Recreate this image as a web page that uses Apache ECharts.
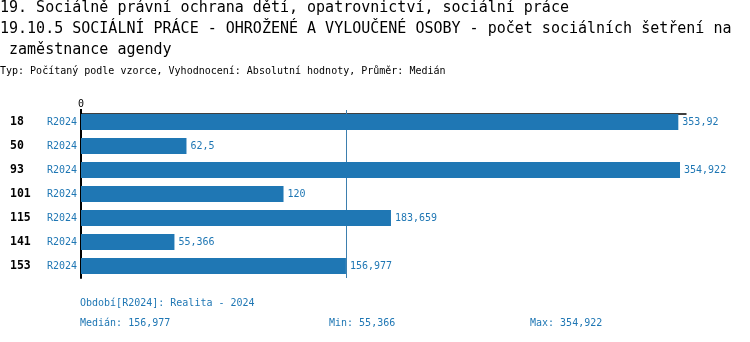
<!DOCTYPE html>
<html>
<head>
<meta charset="utf-8">
<script src="https://cdn.jsdelivr.net/npm/echarts@6/dist/echarts.min.js"></script>
<style>html,body{margin:0;padding:0;background:#fff}#c{width:750px;height:342px}</style>
</head>
<body>
<div id="c"></div>
<script>
const titleLines = [
  '19. Sociálně právní ochrana dětí, opatrovnictví, sociální práce',
  '19.10.5 SOCIÁLNÍ PRÁCE - OHROŽENÉ A VYLOUČENÉ OSOBY - počet sociálních šetření na',
  ' zaměstnance agendy'
];
const subtitle = 'Typ: Počítaný podle vzorce, Vyhodnocení: Absolutní hodnoty, Průměr: Medián';
const categories = ['18', '50', '93', '101', '115', '141', '153'];
const periodLabel = 'R2024';
const periodText = 'Období[R2024]: Realita - 2024';
const values = [353.92, 62.5, 354.922, 120, 183.659, 55.366, 156.977];
const xTickLabels = [0];

const FONT = 'DejaVu Sans Mono';
const BLUE = '#1f77b4';
const fmt = v => String(+v.toFixed(3)).replace('.', ',');
const sorted = values.slice().sort((a, b) => a - b);
const median = sorted[Math.floor(sorted.length / 2)];
const vMin = sorted[0];
const vMax = sorted[sorted.length - 1];

const chart = echarts.init(document.getElementById('c'), null, {renderer: 'canvas'});
chart.setOption({
  animation: false,
  backgroundColor: '#fff',
  grid: {left: 81, top: 110, height: 168, right: 64},
  xAxis: {
    type: 'value', position: 'top', min: 0, max: vMax * 1.01, offset: -4,
    axisLine: {show: true, lineStyle: {color: '#000', width: 1.5}},
    axisTick: {show: true, customValues: xTickLabels, length: 5, lineStyle: {color: '#000', width: 2}},
    axisLabel: {show: true, customValues: xTickLabels, margin: 5, color: '#000', fontFamily: FONT, fontSize: 10},
    splitLine: {show: false}
  },
  yAxis: [
    {
      type: 'category', inverse: true, data: categories,
      axisLine: {show: true, lineStyle: {color: '#000', width: 2}},
      axisTick: {show: false},
      axisLabel: {formatter: () => periodLabel, color: BLUE, fontFamily: FONT, fontSize: 10, margin: 4}
    },
    {
      type: 'category', inverse: true, data: categories, position: 'left',
      axisLine: {show: false}, axisTick: {show: false},
      axisLabel: {color: '#000', fontFamily: FONT, fontSize: 11.5, fontWeight: 'bold', align: 'left', margin: 71}
    }
  ],
  series: [{
    type: 'bar', data: values, barWidth: 16, yAxisIndex: 0, z: 3,
    itemStyle: {color: BLUE},
    label: {show: true, position: 'right', distance: 4, color: BLUE, fontFamily: FONT, fontSize: 10,
      formatter: p => fmt(p.value)},
    markLine: {
      silent: true, symbol: 'none', label: {show: false}, z: 1,
      lineStyle: {color: '#3d7fae', width: 1, type: 'solid'},
      data: [{xAxis: median}]
    }
  }],
  graphic: [
    {type: 'text', left: 0, top: 1, style: {text: titleLines[0], font: '15px "' + FONT + '"', fill: '#000'}},
    {type: 'text', left: 0, top: 22, style: {text: titleLines[1], font: '15px "' + FONT + '"', fill: '#000'}},
    {type: 'text', left: 0, top: 43, style: {text: titleLines[2], font: '15px "' + FONT + '"', fill: '#000'}},
    {type: 'text', left: 0, top: 66, style: {text: subtitle, font: '10px "' + FONT + '"', fill: '#000'}},
    {type: 'text', left: 80, top: 298, style: {text: periodText, font: '10px "' + FONT + '"', fill: BLUE}},
    {type: 'text', left: 80, top: 318, style: {text: 'Medián: ' + fmt(median), font: '10px "' + FONT + '"', fill: BLUE}},
    {type: 'text', left: 329, top: 318, style: {text: 'Min: ' + fmt(vMin), font: '10px "' + FONT + '"', fill: BLUE}},
    {type: 'text', left: 530, top: 318, style: {text: 'Max: ' + fmt(vMax), font: '10px "' + FONT + '"', fill: BLUE}}
  ]
});
</script>
</body>
</html>
